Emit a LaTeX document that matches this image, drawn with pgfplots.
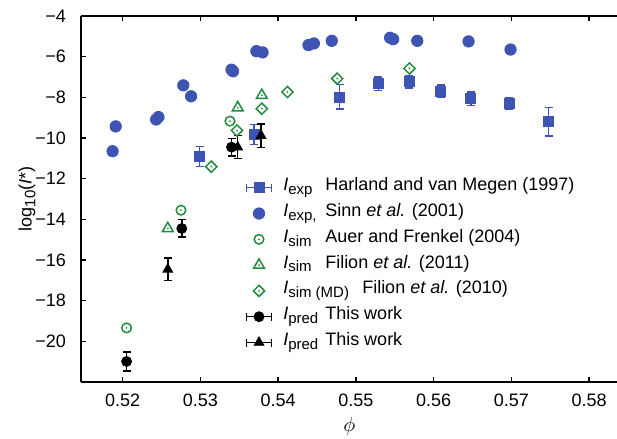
\documentclass[border=0pt]{standalone}
\usepackage{pgfplots}
\pgfplotsset{compat=1.18}
\usepackage{fontspec}
\setmainfont{Liberation Sans}

\definecolor{cblue}{RGB}{62,84,178}
\definecolor{cgreen}{RGB}{34,139,58}

\newcommand{\sub}[1]{\raisebox{-1.9pt}{\fontsize{7.5}{8}\selectfont #1}}
\newcommand{\lab}[3]{\makebox[#1][l]{\textit{I}\sub{#2}}#3}

% open marks with a dot in the middle
\pgfdeclareplotmark{odot}{%
  \pgfpathcircle{\pgfpointorigin}{\pgfplotmarksize}\pgfusepathqstroke
  \pgfpathcircle{\pgfpointorigin}{0.5pt}\pgfusepathqfill}
\pgfdeclareplotmark{tdot}{%
  \pgfpathmoveto{\pgfqpoint{0pt}{\pgfplotmarksize}}%
  \pgfpathlineto{\pgfqpointpolar{-30}{\pgfplotmarksize}}%
  \pgfpathlineto{\pgfqpointpolar{210}{\pgfplotmarksize}}%
  \pgfpathclose\pgfusepathqstroke
  \pgfpathcircle{\pgfpointorigin}{0.5pt}\pgfusepathqfill}
\pgfdeclareplotmark{ddot}{%
  \pgfpathmoveto{\pgfqpoint{0pt}{\pgfplotmarksize}}%
  \pgfpathlineto{\pgfqpoint{\pgfplotmarksize}{0pt}}%
  \pgfpathlineto{\pgfqpoint{0pt}{-\pgfplotmarksize}}%
  \pgfpathlineto{\pgfqpoint{-\pgfplotmarksize}{0pt}}%
  \pgfpathclose\pgfusepathqstroke
  \pgfpathcircle{\pgfpointorigin}{0.5pt}\pgfusepathqfill}

\pgfplotsset{
  errlegend/.style={legend image code/.code={
      \draw[line width=0.75pt, #1] (0pt,0pt) -- (12.5pt,0pt)
        (0pt,-2pt) -- (0pt,2pt) (12.5pt,-2pt) -- (12.5pt,2pt);
      \draw[##1] plot coordinates {(6.25pt,0pt)};}},
  marklegend/.style={legend image code/.code={
      \path (0pt,0pt) (12.5pt,0pt);
      \draw[##1] plot coordinates {(6.25pt,0pt)};}},
}

\begin{document}
\begin{tikzpicture}
\begin{axis}[
    width=267.75pt, height=183pt, scale only axis,
    xmin=0.5147, xmax=0.5836, ymin=-22, ymax=-4,
    axis x line=box, axis y line=left,
    axis line style={-, line width=1pt},
    tick align=inside,
    major tick length=2.5pt,
    major tick style={line width=0.8pt, black},
    xtick={0.52,0.53,0.54,0.55,0.56,0.57,0.58},
    xticklabels={0.52,0.53,0.54,0.55,0.56,0.57,0.58},
    ytick={-20,-18,...,-4},
    yticklabels={−20,−18,−16,−14,−12,−10,−8,−6,−4},
    tick label style={font=\fontsize{9}{10.8}\selectfont},
    xticklabel style={yshift=-2.5pt},
    yticklabel style={xshift=-4.25pt},
    xlabel={$\phi$},
    xlabel style={at={(axis description cs:0.5,-0.122)}, anchor=center, font=\fontsize{10}{12}\selectfont},
    ylabel={log\sub{10}(\textit{I}*)},
    ylabel style={at={(axis description cs:-0.1018,0.5)}, anchor=center, font=\fontsize{9}{10.8}\selectfont},
    legend style={draw=none, fill=none, at={(axis description cs:0.306,0.562)}, anchor=north west,
        font=\fontsize{9}{10.8}\selectfont, inner sep=0pt, row sep=1.9pt, column sep=5.5pt,
        nodes={inner sep=0pt, text height=7pt, text depth=4pt}},
    legend cell align=left,
    clip=false,
]

% Harland and van Megen (1997)
\addplot[errlegend=cblue, only marks, mark=square*, mark size=2.5pt, color=cblue,
    error bars/.cd, y dir=both, y explicit,
    error bar style={line width=0.75pt, cblue},
    error mark options={rotate=90, mark size=2pt, line width=0.75pt, cblue}]
coordinates {
    (0.5299,-10.91) +- (0,0.50)
    (0.5369,-9.83)  +- (0,0.50)
    (0.5479,-7.98)  +- (0,0.60)
    (0.5529,-7.33)  +- (0,0.33)
    (0.5569,-7.24)  +- (0,0.30)
    (0.5609,-7.69)  +- (0,0.29)
    (0.5648,-8.07)  +- (0,0.33)
    (0.5697,-8.31)  +- (0,0.30)
    (0.5748,-9.19)  +- (0,0.70)
};
\addlegendentry{\lab{21pt}{exp}{Harland and van Megen (1997)}}

% Sinn et al. (2001)
\addplot[marklegend, only marks, mark=*, mark size=2.85pt, color=cblue]
coordinates {
    (0.5187,-10.65) (0.5191,-9.43) (0.5243,-9.09) (0.5246,-8.97)
    (0.5278,-7.41) (0.5288,-7.95) (0.5340,-6.64) (0.5342,-6.72)
    (0.5372,-5.73) (0.5380,-5.79) (0.5439,-5.43) (0.5446,-5.35)
    (0.5469,-5.22) (0.5544,-5.07) (0.5548,-5.14) (0.5579,-5.22)
    (0.5645,-5.25) (0.5699,-5.65)
};
\addlegendentry{\lab{21pt}{exp,}{Sinn \textit{et al.} (2001)}}

% Auer and Frenkel (2004)
\addplot[marklegend, only marks, mark=odot, mark size=2.4pt, color=cgreen,
    mark options={line width=0.75pt, fill=cgreen}]
coordinates {(0.5205,-19.34) (0.5275,-13.55) (0.5338,-9.17)};
\addlegendentry{\lab{21pt}{sim}{Auer and Frenkel (2004)}}

% Filion et al. (2011)
\addplot[marklegend, only marks, mark=tdot, mark size=3.1pt, color=cgreen,
    mark options={line width=0.75pt, fill=cgreen}]
coordinates {(0.5258,-14.45) (0.5348,-8.51) (0.5379,-7.90)};
\addlegendentry{\lab{21pt}{sim}{Filion \textit{et al.} (2011)}}

% Filion et al. (2010), MD
\addplot[marklegend, only marks, mark=ddot, mark size=2.8pt, color=cgreen,
    mark options={line width=0.75pt, fill=cgreen}]
coordinates {(0.5314,-11.41) (0.5347,-9.63) (0.5379,-8.56) (0.5412,-7.74)
    (0.5476,-7.08) (0.5569,-6.58)};
\addlegendentry{\lab{39.5pt}{sim (MD)}{Filion \textit{et al.} (2010)}}

% This work (circles)
\addplot[errlegend=black, only marks, mark=*, mark size=2.5pt, color=black,
    error bars/.cd, y dir=both, y explicit,
    error bar style={line width=0.75pt, black},
    error mark options={rotate=90, mark size=2pt, line width=0.75pt, black}]
coordinates {
    (0.5205,-20.99) +- (0,0.46)
    (0.5276,-14.45) +- (0,0.43)
    (0.5340,-10.45) +- (0,0.43)
};
\addlegendentry{\lab{21pt}{pred}{This work}}

% This work (triangles)
\addplot[errlegend=black, only marks, mark=triangle*, mark size=2.8pt, color=black,
    error bars/.cd, y dir=both, y explicit,
    error bar style={line width=0.75pt, black},
    error mark options={rotate=90, mark size=2pt, line width=0.75pt, black}]
coordinates {
    (0.5258,-16.46) +- (0,0.55)
    (0.5348,-10.45) +- (0,0.57)
    (0.5378,-9.88)  +- (0,0.58)
};
\addlegendentry{\lab{21pt}{pred}{This work}}

\coordinate (sw) at (rel axis cs:0,0);
\coordinate (ne) at (rel axis cs:1,1);
\end{axis}
\pgfresetboundingbox
\path ([shift={(-40.75pt,-28.5pt)}]sw) rectangle ([shift={(0pt,8pt)}]ne);
\end{tikzpicture}
\end{document}
